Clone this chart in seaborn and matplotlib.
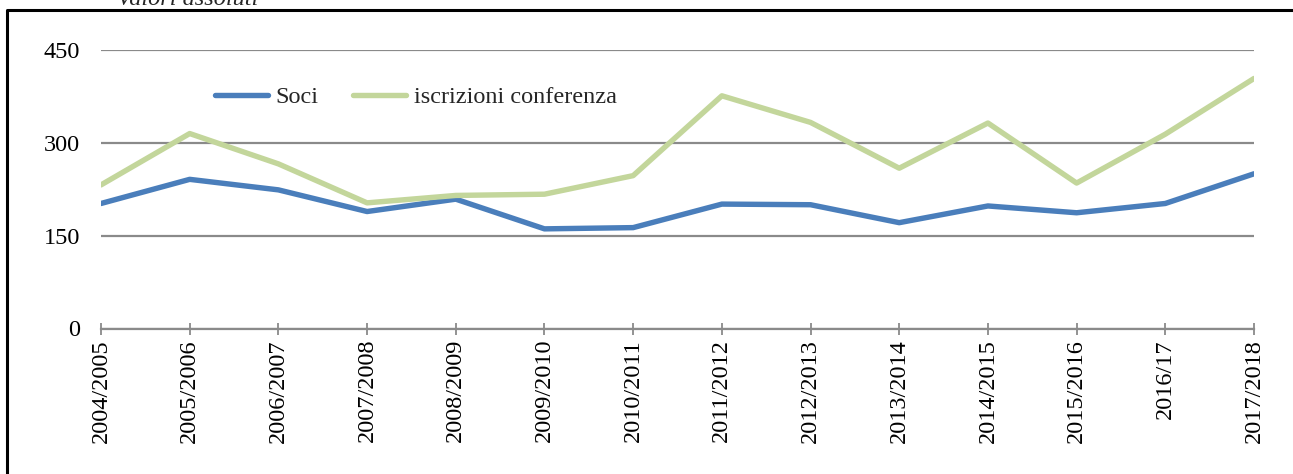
import numpy as np
import pandas as pd
import matplotlib
matplotlib.use("Agg")
import matplotlib.pyplot as plt
from matplotlib.lines import Line2D
import seaborn as sns

# ── Données ───────────────────────────────────────────────────
anni = ["2004/2005", "2005/2006", "2006/2007", "2007/2008", "2008/2009",
        "2009/2010", "2010/2011", "2011/2012", "2012/2013", "2013/2014",
        "2014/2015", "2015/2016", "2016/17", "2017/2018"]
soci = [202, 241, 224, 189, 209, 161, 163, 201, 200, 171, 198, 187, 202, 250]
iscrizioni = [232, 315, 266, 203, 215, 217, 247, 376, 333, 259, 332, 235, 314, 404]
serie = ["Soci", "iscrizioni conferenza"]
y_ticks = [0, 150, 300, 450]

W, H = 1293, 474
sns.set_theme(style="white")
plt.rcParams["font.family"] = ["Liberation Serif", "DejaVu Serif"]
FS = 17.5
LW = 3.9

df = pd.DataFrame({
    "anno": anni * 2,
    "valore": soci + iscrizioni,
    "serie": [serie[0]] * len(anni) + [serie[1]] * len(anni),
})

fig = plt.figure(figsize=(W / 100, H / 100), dpi=100)
ax = fig.add_axes([101 / W, 1 - 328.5 / H, (1254 - 101) / W, (328.5 - 50) / H])

sns.lineplot(data=df, x="anno", y="valore", hue="serie", sort=False,
             palette=["#4A7EBB", "#C3D69B"], linewidth=LW, ax=ax,
             solid_capstyle="round", legend=False)

ax.set_xlim(0, len(anni) - 1)
ax.set_ylim(0, 450)
ax.set_yticks(y_ticks)
ax.set_yticklabels([str(v) for v in y_ticks], fontsize=FS)
ax.set_xticks(range(len(anni)))
ax.set_xticklabels(anni, rotation=90, fontsize=FS)
ax.set_xlabel("")
ax.set_ylabel("")

ax.grid(axis="y", color="#8A8A8A", linewidth=1.6)
ax.set_axisbelow(True)
for s in ["left", "right", "top"]:
    ax.spines[s].set_visible(False)
ax.spines["bottom"].set_color("#8A8A8A")
ax.spines["bottom"].set_linewidth(1.6)
ax.tick_params(axis="y", left=False, length=0, pad=15, colors="black")
ax.tick_params(axis="x", bottom=True, direction="inout", length=9, width=1.3,
               color="#8A8A8A", pad=3, labelcolor="black")

# Légende
handles = [Line2D([], [], color="#4A7EBB", lw=LW, solid_capstyle="round"),
           Line2D([], [], color="#C3D69B", lw=LW, solid_capstyle="round")]
fig.legend(handles, serie, loc="center left",
           bbox_to_anchor=(215 / W, 1 - 97 / H), ncol=2, frameon=False,
           fontsize=FS, handlelength=2.2, handletextpad=0.3,
           columnspacing=1.4, borderpad=0, borderaxespad=0)

# Titre coupé en haut (comme dans l'original) + cadre
fig.text(188 / W, 1 - 5 / H, "Valori assoluti", fontsize=FS, style="italic",
         ha="center", va="baseline")
fig.add_artist(Line2D([7 / W, 7 / W, 1], [0, 1 - 10 / H, 1 - 10 / H],
                      color="black", lw=2.2, transform=fig.transFigure))

fig.savefig("out.png", dpi=100)
plt.close(fig)
